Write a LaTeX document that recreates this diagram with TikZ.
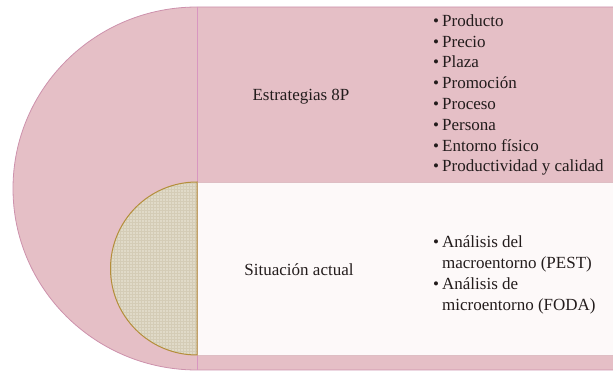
\documentclass[tikz,border=0pt]{standalone}
\usepackage{fontspec}
\setmainfont{Liberation Serif}
\usetikzlibrary{patterns}

\definecolor{rosa}{RGB}{229,191,198}
\definecolor{rosaborde}{RGB}{205,145,172}
\definecolor{lila}{RGB}{216,150,192}
\definecolor{blanco}{RGB}{253,249,249}
\definecolor{rosaclaro}{RGB}{222,190,196}
\definecolor{beige}{RGB}{224,218,200}
\definecolor{beigetrama}{RGB}{212,204,182}
\definecolor{oro}{RGB}{180,142,58}
\definecolor{tinta}{RGB}{35,28,28}

\tikzset{
  texto/.style={font=\fontsize{17}{20.8}\selectfont,text=tinta,inner sep=0pt},
}

\begin{document}
\begin{tikzpicture}[x=1pt,y=1pt]
  \useasboundingbox (0,0) rectangle (613,372);
  \clip (0,0) rectangle (613,372);
  % fondo rosa: semicirculo + banda
  \filldraw[fill=rosa,draw=rosaborde,line width=0.8pt]
    (620,365) -- (197,365)
    arc[start angle=90,end angle=270,x radius=184,y radius=181.5]
    -- (620,2) -- cycle;
  % linea divisoria
  \draw[lila,line width=0.8pt] (197,365) -- (197,2);
  % banda blanca
  \filldraw[fill=blanco,draw=rosaclaro,line width=0.6pt] (197,190) rectangle (620,17);
  % semicirculo beige (lino)
  \fill[beige] (197,190) arc[start angle=90,end angle=270,radius=86.5] -- cycle;
  \fill[pattern=grid,pattern color=beigetrama]
    (197,190) arc[start angle=90,end angle=270,radius=86.5] -- cycle;
  \draw[oro,line width=1pt] (197,190) arc[start angle=90,end angle=270,radius=86.5] -- cycle;
  % textos de arriba
  \node[texto] (estr) at (301,275) {Estrategias 8P};
  \node[texto,anchor=west] (ochop) at (433,277) {%
    \begin{tabular}{@{}l@{\hspace{3pt}}l@{}}
      • & Producto\\
      • & Precio\\
      • & Plaza\\
      • & Promoción\\
      • & Proceso\\
      • & Persona\\
      • & Entorno físico\\
      • & Productividad y calidad
    \end{tabular}};
  % textos de abajo
  \node[texto] (sit) at (299,102) {Situación actual};
  \node[texto,anchor=west] (anal) at (433,97) {%
    \begin{tabular}{@{}l@{\hspace{3pt}}l@{}}
      • & Análisis del\\
        & macroentorno (PEST)\\
      • & Análisis de\\
        & microentorno (FODA)
    \end{tabular}};
\end{tikzpicture}
\end{document}
